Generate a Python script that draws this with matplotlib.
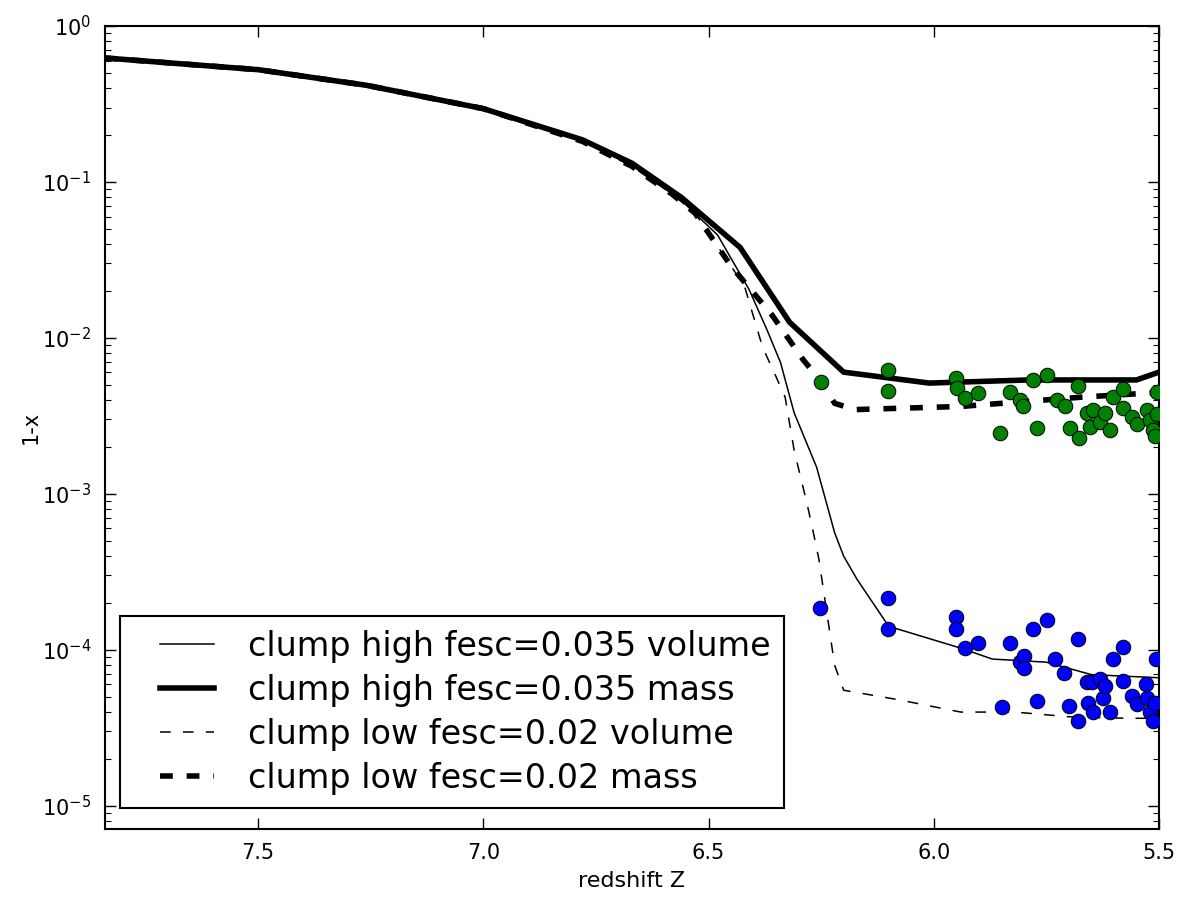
import numpy as np
import matplotlib
matplotlib.use("Agg")
import matplotlib.pyplot as plt
from matplotlib.ticker import LogLocator, NullFormatter
from matplotlib.legend_handler import HandlerLine2D

# ---- data (log10(1-x)) ----
z_high_mass = [7.84, 7.5, 7.26, 7.0, 6.78, 6.67, 6.56, 6.43, 6.32, 6.20, 6.01, 5.79, 5.55, 5.50]
lg_high_mass = [-0.205, -0.28, -0.38, -0.53, -0.73, -0.88, -1.10, -1.42, -1.90, -2.22, -2.29, -2.27, -2.27, -2.22]

z_high_vol = [7.84, 7.5, 7.26, 7.0, 6.78, 6.67, 6.56, 6.48, 6.41, 6.37, 6.34, 6.31, 6.26, 6.22, 6.20, 6.17, 6.10, 5.94, 5.87, 5.75, 5.65, 5.50]
lg_high_vol = [-0.205, -0.28, -0.38, -0.53, -0.73, -0.89, -1.12, -1.34, -1.69, -1.95, -2.16, -2.48, -2.83, -3.25, -3.40, -3.55, -3.85, -3.99, -4.06, -4.08, -4.16, -4.18]

z_low_mass = [7.84, 7.5, 7.26, 7.0, 6.78, 6.67, 6.58, 6.53, 6.49, 6.45, 6.36, 6.29, 6.25, 6.22, 6.175, 5.94, 5.67, 5.50]
lg_low_mass = [-0.205, -0.28, -0.38, -0.53, -0.74, -0.90, -1.08, -1.20, -1.37, -1.54, -1.85, -2.14, -2.28, -2.42, -2.46, -2.44, -2.38, -2.35]

z_low_vol = [7.84, 7.5, 7.26, 7.0, 6.78, 6.67, 6.58, 6.53, 6.49, 6.45, 6.42, 6.38, 6.35, 6.33, 6.31, 6.28, 6.265, 6.255, 6.22, 6.20, 6.08, 5.94, 5.82, 5.70, 5.57, 5.50]
lg_low_vol = [-0.205, -0.28, -0.38, -0.53, -0.74, -0.90, -1.08, -1.20, -1.37, -1.54, -1.67, -2.06, -2.25, -2.38, -2.72, -3.08, -3.28, -3.42, -4.10, -4.26, -4.32, -4.40, -4.40, -4.43, -4.44, -4.44]

z_green = [6.250, 6.102, 6.102, 5.951, 5.949, 5.931, 5.902, 5.853, 5.831, 5.809, 5.802, 5.780, 5.771,
           5.749, 5.727, 5.709, 5.698, 5.680, 5.678, 5.660, 5.653, 5.647, 5.631, 5.620, 5.609, 5.602,
           5.580, 5.580, 5.560, 5.549, 5.527, 5.520, 5.513, 5.509, 5.505, 5.505]
lg_green = [-2.28, -2.205, -2.34, -2.26, -2.32, -2.385, -2.355, -2.61, -2.35, -2.40, -2.44, -2.27, -2.58,
            -2.24, -2.40, -2.44, -2.58, -2.31, -2.64, -2.48, -2.57, -2.46, -2.54, -2.48, -2.59, -2.38,
            -2.33, -2.45, -2.51, -2.55, -2.46, -2.53, -2.59, -2.63, -2.35, -2.49]

z_blue = [6.253, 6.102, 6.102, 5.951, 5.951, 5.931, 5.902, 5.849, 5.831, 5.809, 5.800, 5.800, 5.780,
          5.771, 5.749, 5.731, 5.711, 5.700, 5.680, 5.680, 5.660, 5.658, 5.649, 5.647, 5.631, 5.625,
          5.620, 5.609, 5.602, 5.580, 5.580, 5.560, 5.549, 5.529, 5.527, 5.520, 5.513, 5.509, 5.507]
lg_blue = [-3.73, -3.67, -3.87, -3.79, -3.87, -3.99, -3.96, -4.37, -3.96, -4.08, -4.04, -4.12, -3.87,
           -4.33, -3.81, -4.06, -4.15, -4.36, -3.93, -4.46, -4.21, -4.34, -4.21, -4.40, -4.19, -4.31,
           -4.23, -4.40, -4.06, -3.98, -4.20, -4.30, -4.35, -4.22, -4.31, -4.40, -4.46, -4.34, -4.06]

labels = ["clump high fesc=0.035 volume", "clump high fesc=0.035 mass",
          "clump low fesc=0.02 volume", "clump low fesc=0.02 mass"]

x_ticks = [7.5, 7.0, 6.5, 6.0, 5.5]

# ---- figure ----
plt.rcParams['font.family'] = ['DejaVu Sans']
plt.rcParams['mathtext.default'] = 'regular'
fig = plt.figure(figsize=(11.86, 8.97), dpi=100)
ax = fig.add_axes([0.0885, 0.0758, 0.8887, 0.8952])


def p(lg):
    return 10.0 ** np.asarray(lg)


class ShortHandle(HandlerLine2D):
    """Line handle drawn only over the middle part of the handle box."""
    def get_xdata(self, legend, xdescent, ydescent, width, height, fontsize):
        x0 = -xdescent + 0.30 * width
        x1 = -xdescent + 0.90 * width
        xd = np.array([x0, x1])
        return xd, xd


ax.plot(z_high_vol, p(lg_high_vol), color='k', lw=1.1, label=labels[0])
ax.plot(z_high_mass, p(lg_high_mass), color='k', lw=4.0, label=labels[1])
ax.plot(z_low_vol, p(lg_low_vol), color='k', lw=1.1, ls=(0, (7, 8)), label=labels[2])
ax.plot(z_low_mass, p(lg_low_mass), color='k', lw=4.0, ls=(0, (2.3, 2.5)), label=labels[3])

ax.scatter(z_green, p(lg_green), s=110, c='#008000', edgecolors='k', linewidths=0.7, zorder=3)
ax.scatter(z_blue, p(lg_blue), s=110, c='#0000ff', edgecolors='k', linewidths=0.7, zorder=3)

ax.set_yscale('log')
ax.set_xlim(7.84, 5.5)
ax.set_ylim(10 ** -5.15, 1.0)
ax.set_xticks(x_ticks)
ax.set_xticklabels([f"{t:.1f}" for t in x_ticks])
ax.yaxis.set_major_locator(LogLocator(base=10, numticks=10))
ax.yaxis.set_minor_locator(LogLocator(base=10, subs=np.arange(2, 10), numticks=20))
ax.yaxis.set_minor_formatter(NullFormatter())

ax.tick_params(which='both', direction='in', top=True, right=True, labelsize=15, color='k')
ax.tick_params(which='major', length=8, width=1, pad=10)
ax.tick_params(which='minor', length=4, width=0.8)
for s in ax.spines.values():
    s.set_linewidth(1.5)

ax.set_xlabel("redshift Z", fontsize=16, labelpad=6)
ax.set_ylabel("1-x", fontsize=15, labelpad=1)

leg = ax.legend(loc='lower left', bbox_to_anchor=(0.0142, 0.026), borderaxespad=0,
                fontsize=24, frameon=True, fancybox=False, framealpha=1,
                handlelength=2.7, handletextpad=0.75, labelspacing=0.33, borderpad=0.4,
                handler_map={matplotlib.lines.Line2D: ShortHandle()})
leg.get_frame().set_edgecolor('k')
leg.get_frame().set_linewidth(1.5)

fig.savefig("out.png", dpi=100)
